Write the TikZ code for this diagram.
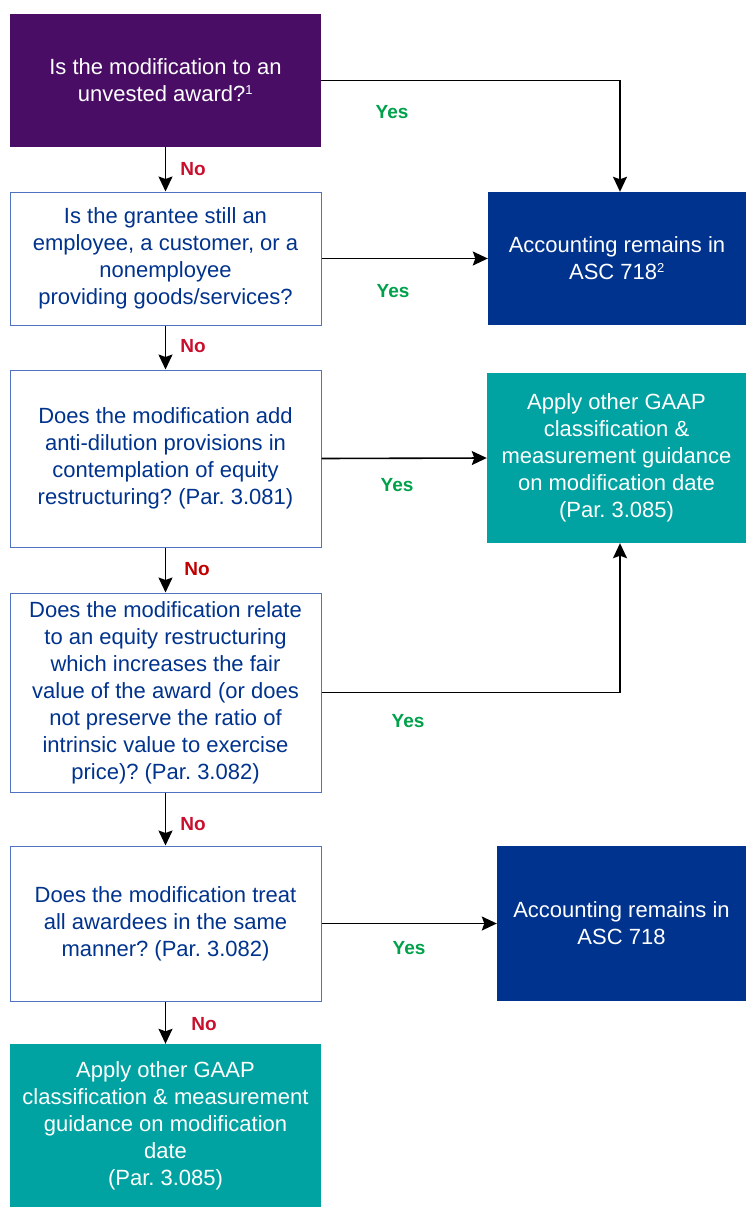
\documentclass[tikz,border=0pt]{standalone}
\usepackage{fontspec}
\setmainfont{Liberation Sans}
\usetikzlibrary{arrows.meta}
\frenchspacing
\definecolor{kpurple}{HTML}{4A0D66}
\definecolor{kblue}{HTML}{00338D}
\definecolor{kteal}{HTML}{00A3A1}
\definecolor{kborder}{HTML}{4F73BE}
\definecolor{kgreen}{HTML}{00A14B}
\definecolor{kcrimson}{HTML}{C8102E}
\definecolor{kred}{HTML}{C00000}
\tikzset{
  box/.style={rectangle, inner sep=0pt, align=center, font=\fontsize{22}{27}\selectfont},
  qbox/.style={box, draw=kborder, line width=1pt, fill=white, text=kblue},
  purplebox/.style={box, fill=kpurple, text=white},
  bluebox/.style={box, fill=kblue, text=white},
  tealbox/.style={box, fill=kteal, text=white},
  yeslbl/.style={font=\bfseries\fontsize{19}{22}\selectfont, text=kgreen, inner sep=0pt},
  nolbl/.style={font=\bfseries\fontsize{19}{22}\selectfont, text=kcrimson, inner sep=0pt},
  conn/.style={draw=black, line width=1.6pt, -{Stealth[length=15pt,width=14pt,inset=2.5pt]}},
}
\begin{document}
\begin{tikzpicture}[x=1pt,y=-1pt]
\useasboundingbox (0,0) rectangle (746,1207);
% nodes
\node[purplebox, minimum width=311pt, minimum height=133pt] (q1) at (165.5,80.5)
  {Is the modification to an\\unvested award?\textsuperscript{\fontsize{13}{13}\selectfont 1}};
\node[qbox, minimum width=311pt, minimum height=133pt] (q2) at (165.5,258.5)
  {Is the grantee still an\\employee, a customer, or a\\nonemployee\\providing goods/services?};
\node[qbox, minimum width=311pt, minimum height=177pt] (q3) at (165.5,458.5)
  {Does the modification add\\anti-dilution provisions in\\contemplation of equity\\restructuring? (Par. 3.081)};
\node[qbox, minimum width=311pt, minimum height=199pt] (q4) at (165.5,692.5)
  {Does the modification relate\\to an equity restructuring\\which increases the fair\\value of the award (or does\\not preserve the ratio of\\intrinsic value to exercise\\price)? (Par. 3.082)};
\node[qbox, minimum width=311pt, minimum height=155pt] (q5) at (165.5,923.5)
  {Does the modification treat\\all awardees in the same\\manner? (Par. 3.082)};
\node[tealbox, minimum width=311pt, minimum height=163pt] (d) at (165.5,1125.5)
  {Apply other GAAP\\classification \& measurement\\guidance on modification\\date\\(Par. 3.085)};
\node[bluebox, minimum width=258pt, minimum height=133pt] (a) at (617,258.5)
  {Accounting remains in\\ASC 718\textsuperscript{\fontsize{13}{13}\selectfont 2}};
\node[tealbox, minimum width=259pt, minimum height=170pt] (b) at (616.5,458)
  {Apply other GAAP\\classification \&\\measurement guidance\\on modification date\\(Par. 3.085)};
\node[bluebox, minimum width=249pt, minimum height=155pt] (c) at (621.5,923.5)
  {Accounting remains in\\ASC 718};
% connectors
\draw[conn] (q1.south) -- (q2.north);
\draw[conn] (q1.east) -| ([xshift=3pt]a.north);
\draw[conn] (q2.east) -- (a.west);
\draw[conn] (q2.south) -- (q3.north);
\draw[conn] (q3.east) -- (b.west);
\draw[conn] (q3.south) -- (q4.north);
\draw[conn] (q4.east) -| ([xshift=3.5pt]b.south);
\draw[conn] (q4.south) -- (q5.north);
\draw[conn] (q5.east) -- (c.west);
\draw[conn] (q5.south) -- (d.north);
% labels
\node[nolbl] (n1) at (193,169) {No};
\node[yeslbl] (y1) at (392,112) {Yes};
\node[yeslbl] (y2) at (393,291) {Yes};
\node[nolbl] (n2) at (193,346) {No};
\node[yeslbl] (y3) at (397,485) {Yes};
\node[nolbl, text=kred] (n3) at (197,569) {No};
\node[yeslbl] (y4) at (408,721) {Yes};
\node[nolbl] (n4) at (193,824) {No};
\node[yeslbl] (y5) at (409,948) {Yes};
\node[nolbl] (n5) at (204,1024) {No};
\end{tikzpicture}
\end{document}
